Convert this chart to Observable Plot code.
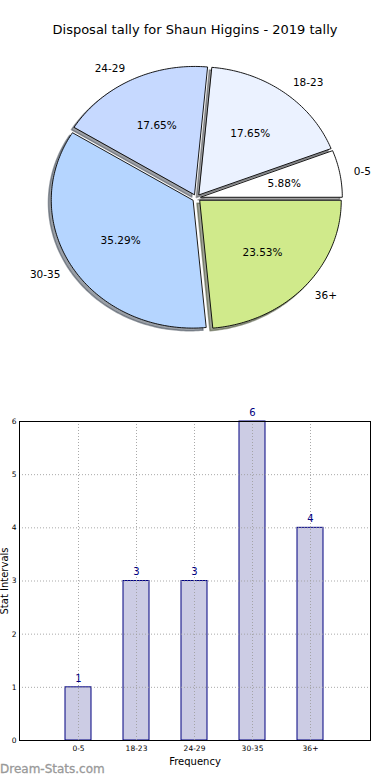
<!DOCTYPE html>
<html><head><meta charset="utf-8">
<script src="https://cdn.jsdelivr.net/npm/d3@7"></script>
<script src="https://cdn.jsdelivr.net/npm/@observablehq/plot@0.6"></script>
<style>
body{margin:0;background:#fff;font-family:"DejaVu Sans",sans-serif;}
#wrap{position:relative;width:390px;height:780px;overflow:hidden;background:#fff;}
#title{position:absolute;top:22px;left:0;width:390px;text-align:center;font-size:13px;color:#000;}
#pie{position:absolute;top:0;left:0;}
#bar{position:absolute;top:400px;left:0;}
#wm{position:absolute;left:0;top:762px;font-size:12px;color:#999;font-weight:normal;-webkit-text-stroke:0.3px #999;}
</style></head>
<body><div id="wrap"><div id="pie"></div><div id="title"></div><div id="bar"></div><div id="wm">Dream-Stats.com</div></div>
<script>
const titleText = "Disposal tally for Shaun Higgins - 2019 tally";
const categories = ["0-5", "18-23", "24-29", "30-35", "36+"];
const counts = [1, 3, 3, 6, 4];
const pieColors = ["#ffffff", "#ebf2ff", "#c6d9ff", "#b5d5ff", "#d0ea8b"];
const yTicks = [0, 1, 2, 3, 4, 5, 6];
const xLabel = "Frequency";
const yLabel = "Stat Intervals";

document.getElementById("title").textContent = titleText;

// ---- Pie (matplotlib style: start 0°, counterclockwise, exploded, shadow) ----
const total = d3.sum(counts);
const explode = 0.031;
const slices = [];
let acc = 0;
categories.forEach((c, i) => {
  const a0 = acc / total * 2 * Math.PI;
  acc += counts[i];
  const a1 = acc / total * 2 * Math.PI;
  const mid = (a0 + a1) / 2;
  const ex = explode * Math.cos(mid), ey = explode * Math.sin(mid);
  const pts = [{x: ex, y: ey}];
  const n = Math.ceil((a1 - a0) / (Math.PI / 180)) + 1;
  for (let k = 0; k <= n; k++) {
    const t = a0 + (a1 - a0) * k / n;
    pts.push({x: ex + Math.cos(t), y: ey + Math.sin(t)});
  }
  slices.push({cat: c, count: counts[i], color: pieColors[i], mid, ex, ey, pts});
});
const labels = slices.map(s => ({
  text: s.cat,
  x: s.ex + 1.1 * Math.cos(s.mid),
  y: s.ey + 1.1 * Math.sin(s.mid),
  right: Math.cos(s.mid) > 0
}));
const pcts = slices.map(s => ({
  text: d3.format(".2f")(s.count / total * 100) + "%",
  x: s.ex + 0.6 * Math.cos(s.mid),
  y: s.ey + 0.6 * Math.sin(s.mid)
}));
function shade(c) {
  const r = d3.rgb(c);
  return d3.rgb(r.r * 0.3, r.g * 0.3, r.b * 0.3).formatHex();
}
const pieMarks = [];
slices.forEach(s => {
  pieMarks.push(Plot.line(s.pts, {x: "x", y: "y", curve: "linear-closed", fill: shade(s.color), stroke: shade(s.color), fillOpacity: 0.5, strokeOpacity: 0.5, dx: -2.8, dy: 2.6}));
});
slices.forEach(s => {
  pieMarks.push(Plot.line(s.pts, {x: "x", y: "y", curve: "linear-closed", fill: s.color, stroke: "black", strokeWidth: 0.9}));
});
pieMarks.push(Plot.text(labels.filter(d => d.right), {x: "x", y: "y", text: "text", textAnchor: "start", fill: "black", fontSize: 10.5}));
pieMarks.push(Plot.text(labels.filter(d => !d.right), {x: "x", y: "y", text: "text", textAnchor: "end", fill: "black", fontSize: 10.5}));
pieMarks.push(Plot.text(pcts, {x: "x", y: "y", text: "text", fill: "black", fontSize: 10.5}));

const pie = Plot.plot({
  width: 390, height: 360,
  marginTop: 0, marginBottom: 0, marginLeft: 0, marginRight: 0,
  style: {fontFamily: "DejaVu Sans", background: "transparent", color: "black"},
  x: {domain: [-1, 1], range: [54.5, 337.5], axis: null},
  y: {domain: [-1, 1], range: [325.5, 69.5], axis: null},
  marks: pieMarks
});
document.getElementById("pie").appendChild(pie);

// ---- Bar chart ----
const barData = categories.map((c, i) => ({cat: c, n: counts[i]}));
const gridStyle = {stroke: "#a0a0a0", strokeOpacity: 0.9, strokeWidth: 1, strokeDasharray: "1,2"};
const bar = Plot.plot({
  width: 390, height: 380,
  marginTop: 21, marginBottom: 40, marginLeft: 19, marginRight: 20,
  style: {fontFamily: "DejaVu Sans", fontSize: "7.5px", background: "white", color: "black"},
  x: {domain: categories, paddingInner: 0.55, paddingOuter: 0.775, axis: null},
  y: {domain: [0, 6], axis: null},
  marks: [
    Plot.barY(barData, {x: "cat", y: "n", fill: "#ccccE4", stroke: "#000080", strokeWidth: 1}),
    Plot.gridX(categories, gridStyle),
    Plot.gridY(yTicks, gridStyle),
    Plot.text(barData, {x: "cat", y: "n", text: d => String(d.n), dy: -9, fill: "#000080", fontSize: 10}),
    Plot.frame({stroke: "black", strokeWidth: 1}),
    Plot.axisX({tickSize: 0, tickPadding: 5, label: null, fontSize: 7.5}),
    Plot.axisY({ticks: yTicks, tickFormat: d => String(d), tickSize: 0, tickPadding: 3, label: null, fontSize: 7.5}),
    Plot.text([xLabel], {frameAnchor: "bottom", text: d => d, dy: 21, lineAnchor: "middle", fontSize: 10, fill: "black"}),
    Plot.text([yLabel], {frameAnchor: "left", text: d => d, rotate: -90, dx: -15, textAnchor: "middle", lineAnchor: "middle", fontSize: 10, fill: "black"})
  ]
});
document.getElementById("bar").appendChild(bar);
</script>
</body></html>
